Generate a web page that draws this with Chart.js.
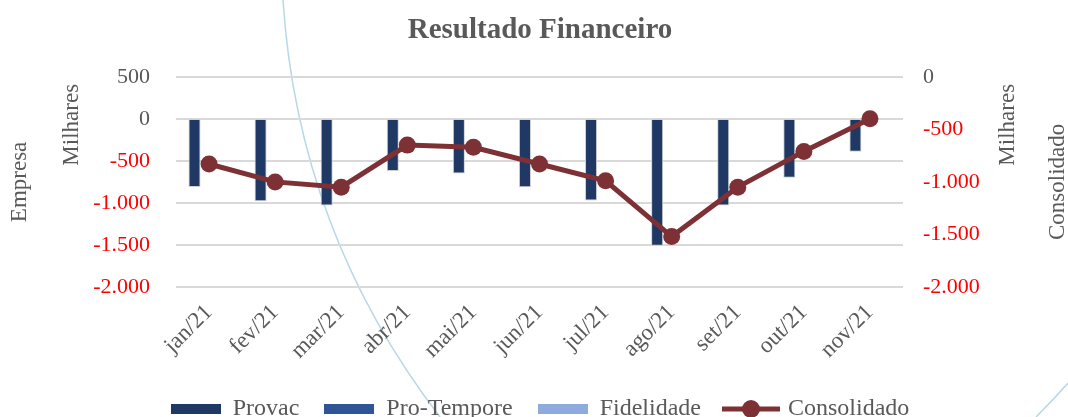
<!DOCTYPE html>
<html>
<head>
<meta charset="utf-8">
<script src="https://cdn.jsdelivr.net/npm/chart.js@4.4.0/dist/chart.umd.min.js"></script>
<style>
  html, body { margin: 0; padding: 0; background: #fff; }
  #wrap { width: 1068px; height: 417px; }
</style>
</head>
<body>
<div id="wrap"><canvas id="chart"></canvas></div>
<script>
const months = ["jan/21", "fev/21", "mar/21", "abr/21", "mai/21", "jun/21", "jul/21", "ago/21", "set/21", "out/21", "nov/21"];
const provac = [-810, -980, -1030, -620, -650, -815, -970, -1510, -1030, -700, -390];
const proTempore = [0, 0, 0, 0, 0, 0, 0, 0, 0, 0, 0];
const fidelidade = [0, 0, 0, 0, 0, 0, 0, 0, 0, 0, 0];
const consolidado = [-830, -1000, -1050, -650, -670, -830, -990, -1520, -1050, -710, -400];

const empresaTicks = { min: -2000, max: 500, step: 500 };
const consolidadoTicks = { min: -2000, max: 0, step: 500 };

const gray = "#595959";
const red = "#FF0000";
const serif = "Liberation Serif";

Chart.defaults.font.family = serif;
Chart.defaults.color = gray;

// 1.000 style numbers
const fmt = (v) => {
  const s = Math.abs(v).toString().replace(/\B(?=(\d{3})+(?!\d))/g, ".");
  return (v < 0 ? "-" : "") + s;
};

function boxImg(color) {
  const c = document.createElement("canvas");
  c.width = 50; c.height = 10;
  const g = c.getContext("2d");
  g.fillStyle = color;
  g.fillRect(0, 0, 50, 10);
  return c;
}

function lineImg(color) {
  const c = document.createElement("canvas");
  c.width = 58; c.height = 20;
  const g = c.getContext("2d");
  g.strokeStyle = color; g.fillStyle = color; g.lineWidth = 5;
  g.beginPath(); g.moveTo(0, 10); g.lineTo(58, 10); g.stroke();
  g.beginPath(); g.arc(29, 10, 9, 0, Math.PI * 2); g.fill();
  return c;
}

const colors = ["#1F3864", "#2F5597", "#8FAADC", "#7E3135"];
const legendImgs = [boxImg(colors[0]), boxImg(colors[1]), boxImg(colors[2]), lineImg(colors[3])];

// faint background arcs
const decor = {
  id: "decor",
  beforeDraw(chart) {
    const c = chart.ctx;
    c.save();
    c.strokeStyle = "rgba(170, 208, 228, 0.85)";
    c.lineWidth = 1.5;
    c.beginPath();
    c.moveTo(283, 0);
    c.quadraticCurveTo(298, 232, 440, 417);
    c.stroke();
    c.beginPath();
    c.moveTo(1068, 383);
    c.quadraticCurveTo(1052, 401, 1036, 417);
    c.stroke();
    c.restore();
  }
};

const axisTitles = {
  id: "axisTitles",
  afterDraw(chart) {
    const c = chart.ctx;
    const a = chart.chartArea;
    const midY = (a.top + a.bottom) / 2;
    c.save();
    c.font = "23px '" + serif + "'";
    c.fillStyle = gray;
    c.textAlign = "center";
    c.textBaseline = "middle";
    [
      ["Empresa", a.left - 156, midY],
      ["Milhares", a.left - 104, a.top + 48],
      ["Milhares", a.right + 105, a.top + 48],
      ["Consolidado", a.right + 155, midY]
    ].forEach(([t, x, y]) => {
      c.save();
      c.translate(x, y);
      c.rotate(-Math.PI / 2);
      c.fillText(t, 0, 0);
      c.restore();
    });
    c.restore();
  }
};

new Chart(document.getElementById("chart"), {
  data: {
    labels: months,
    datasets: [
      { type: "bar", label: "Provac", data: provac, backgroundColor: colors[0], borderColor: "#D0D0D0", borderWidth: 1, yAxisID: "y", order: 1 },
      { type: "bar", label: "Pro-Tempore", data: proTempore, backgroundColor: colors[1], borderWidth: 0, yAxisID: "y", order: 1 },
      { type: "bar", label: "Fidelidade", data: fidelidade, backgroundColor: colors[2], borderWidth: 0, yAxisID: "y", order: 1 },
      { type: "line", label: "Consolidado", data: consolidado, borderColor: colors[3], backgroundColor: colors[3],
        borderWidth: 5, pointRadius: 8.5, pointBackgroundColor: colors[3], pointBorderWidth: 0, yAxisID: "y1", order: 0 }
    ]
  },
  options: {
    responsive: true,
    maintainAspectRatio: false,
    animation: false,
    layout: { padding: { left: 12, bottom: -14 } },
    datasets: { bar: { categoryPercentage: 0.66, barPercentage: 0.83 } },
    plugins: {
      title: {
        display: true,
        text: "Resultado Financeiro",
        color: gray,
        font: { family: serif, size: 29, weight: "bold" },
        padding: { top: 13, bottom: 29 }
      },
      legend: {
        position: "bottom",
        labels: {
          usePointStyle: true,
          pointStyleWidth: 50,
          padding: 25,
          color: gray,
          font: { family: serif, size: 24 },
          generateLabels: (chart) => chart.data.datasets.map((ds, i) => ({
            text: ds.label,
            pointStyle: legendImgs[i],
            fillStyle: colors[i],
            strokeStyle: colors[i],
            lineWidth: 0,
            fontColor: gray,
            hidden: !chart.isDatasetVisible(i),
            datasetIndex: i
          }))
        }
      },
      tooltip: { enabled: false }
    },
    scales: {
      x: {
        type: "category",
        offset: true,
        grid: { display: false, drawTicks: false },
        border: { display: false },
        ticks: { color: gray, font: { size: 23 }, minRotation: 45, maxRotation: 45, autoSkip: false, padding: 12 },
        afterFit: (s) => { s.height = 144 - (s.chart.legend ? s.chart.legend.height : 59); }
      },
      y: {
        position: "left",
        min: empresaTicks.min,
        max: empresaTicks.max,
        grid: { color: "#D9D9D9", lineWidth: 2, drawTicks: false },
        border: { display: false },
        ticks: {
          stepSize: empresaTicks.step,
          padding: 26,
          font: { size: 22 },
          color: (ctx) => (ctx.tick && ctx.tick.value < 0 ? red : gray),
          callback: (v) => fmt(v)
        },
        afterFit: (s) => { s.width = 164; }
      },
      y1: {
        position: "right",
        min: consolidadoTicks.min,
        max: consolidadoTicks.max,
        grid: { drawOnChartArea: false, drawTicks: false },
        border: { display: false },
        ticks: {
          stepSize: consolidadoTicks.step,
          padding: 20,
          font: { size: 22 },
          color: (ctx) => (ctx.tick && ctx.tick.value < 0 ? red : gray),
          callback: (v) => fmt(v)
        },
        afterFit: (s) => { s.width = 165; }
      }
    }
  },
  plugins: [decor, axisTitles]
});
</script>
</body>
</html>
